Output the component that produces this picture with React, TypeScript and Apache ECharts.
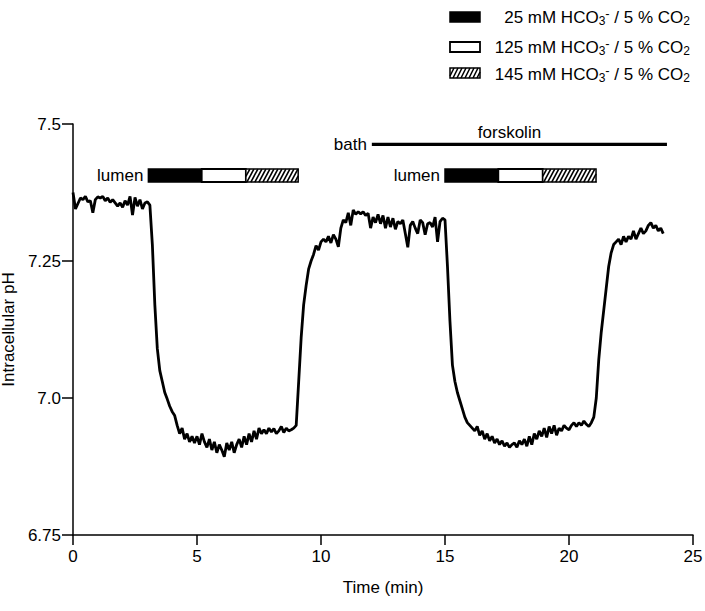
import React, { useEffect, useRef } from "react";
import * as echarts from "echarts";

// ---- data ----
const sampleIntervalMin = 0.1; // recording sampled every 0.1 min, starting at t = 0
const phValues = [
  // 0.0 - 3.1
  7.375, 7.345, 7.355, 7.365, 7.362, 7.368, 7.358, 7.36, 7.338, 7.362,
  7.367, 7.365, 7.368, 7.36, 7.365, 7.357, 7.362, 7.356, 7.35, 7.356,
  7.348, 7.36, 7.352, 7.368, 7.334, 7.366, 7.35, 7.362, 7.345, 7.356,
  7.358, 7.352,
  // 3.2 - 8.9
  7.28, 7.17, 7.09, 7.05, 7.03, 7.01, 6.998, 6.985, 6.975, 6.968,
  6.95, 6.935, 6.945, 6.925, 6.935, 6.92, 6.93, 6.918, 6.93, 6.915,
  6.935, 6.92, 6.91, 6.925, 6.905, 6.92, 6.9, 6.915, 6.905, 6.893,
  6.918, 6.905, 6.92, 6.9, 6.915, 6.925, 6.91, 6.93, 6.915, 6.935,
  6.92, 6.94, 6.925, 6.945, 6.935, 6.942, 6.935, 6.945, 6.938, 6.944,
  6.935, 6.94, 6.948, 6.937, 6.945, 6.94, 6.942, 6.945,
  // 9.0 - 15.0
  6.95, 7.03, 7.11, 7.17, 7.205, 7.235, 7.25, 7.262, 7.278, 7.27,
  7.285, 7.29, 7.285, 7.295, 7.283, 7.298, 7.29, 7.276, 7.31, 7.325,
  7.32, 7.338, 7.315, 7.343, 7.335, 7.34, 7.336, 7.34, 7.333, 7.337,
  7.31, 7.33, 7.32, 7.335, 7.318, 7.333, 7.31, 7.33, 7.312, 7.328,
  7.308, 7.322, 7.318, 7.325, 7.3, 7.275, 7.315, 7.322, 7.31, 7.3,
  7.325, 7.32, 7.298, 7.318, 7.32, 7.312, 7.33, 7.285, 7.322, 7.328,
  7.325,
  // 15.1 - 23.8
  7.24, 7.14, 7.06, 7.03, 7.01, 6.995, 6.98, 6.965, 6.955,
  6.95, 6.945, 6.94, 6.948, 6.932, 6.94, 6.925, 6.935, 6.922, 6.93,
  6.918, 6.925, 6.915, 6.922, 6.912, 6.918, 6.91, 6.915, 6.918, 6.91,
  6.922, 6.915, 6.925, 6.912, 6.93, 6.915, 6.935, 6.925, 6.94, 6.93,
  6.945, 6.928, 6.948, 6.935, 6.95, 6.932, 6.945, 6.94, 6.95, 6.945,
  6.942, 6.95, 6.955, 6.948, 6.955, 6.95, 6.958, 6.952, 6.948, 6.955,
  6.965, 7.0, 7.07, 7.12, 7.16, 7.2, 7.24, 7.265, 7.28, 7.285,
  7.29, 7.28, 7.295, 7.285, 7.295, 7.29, 7.305, 7.29, 7.3, 7.31,
  7.3, 7.305, 7.315, 7.32, 7.31, 7.315, 7.305, 7.31, 7.3,
];

const xTicks = [0, 5, 10, 15, 20, 25];
const yTickValues = [6.75, 7.0, 7.25, 7.5];
const yTickLabels = ["6.75", "7.0", "7.25", "7.5"];

// lumen perfusion segments: [start min, end min, solution index]
const lumenSegments = [
  [3.04, 5.19, 0],
  [5.19, 6.97, 1],
  [6.97, 9.08, 2],
  [15.0, 17.15, 0],
  [17.15, 18.94, 1],
  [18.94, 21.09, 2],
];
const lumenLevel = 7.406;
const bathSpan = [12.05, 23.95];
const bathLevel = 7.463;

const annotationTexts = ["lumen", "lumen", "bath", "forskolin"];
const annotationTimes = [3.04, 15.0, 12.05, 17.6];
const annotationLevels = [7.406, 7.406, 7.463, 7.484];

const legendConc = ["25", "125", "145"];

const FONT = "'Liberation Sans', Arial, Helvetica, sans-serif";

function hatchLines(x: number, y: number, w: number, h: number, spacing: number, slant: number, lw: number) {
  const out: any[] = [];
  for (let k = -slant; k < w; k += spacing) {
    const s0 = Math.max(0, -k / slant);
    const s1 = Math.min(1, (w - k) / slant);
    if (s1 <= s0) continue;
    out.push({
      type: "line",
      shape: {
        x1: x + k + slant * s0,
        y1: y + h - h * s0,
        x2: x + k + slant * s1,
        y2: y + h - h * s1,
      },
      style: { stroke: "#000", lineWidth: lw },
      silent: true,
    });
  }
  return out;
}

function swatch(kind: number, x: number, y: number, w: number, h: number, hatchSlant: number) {
  if (kind === 0) {
    return [{ type: "rect", shape: { x, y, width: w, height: h }, style: { fill: "#000", stroke: "#000", lineWidth: 1.5 } }];
  }
  if (kind === 1) {
    return [{ type: "rect", shape: { x, y, width: w, height: h }, style: { fill: "#fff", stroke: "#000", lineWidth: 1.8 } }];
  }
  return [
    { type: "rect", shape: { x, y, width: w, height: h }, style: { fill: "#fff", stroke: "#000", lineWidth: 1.5 } },
    ...hatchLines(x, y, w, h, 4, hatchSlant, 1.6),
  ];
}

export default function App() {
  const ref = useRef<HTMLDivElement>(null);

  useEffect(() => {
    if (!ref.current) return;
    const chart = echarts.init(ref.current, null, { renderer: "svg" });

    const lineData = phValues.map((v, i) => [Number((i * sampleIntervalMin).toFixed(1)), v]);
    const lumenData = lumenSegments.map((s) => [s[0], s[1], lumenLevel, s[2]]);
    const annData = annotationTexts.map((t, i) => [annotationTimes[i], annotationLevels[i], i]);

    const legendRowY = [12, 42, 68];
    const legendTextY = [17, 47, 74];
    const legendElems: any[] = [];
    legendConc.forEach((c, i) => {
      legendElems.push({
        type: "group",
        children: swatch(i, 450, legendRowY[i], 30, 10, 5),
      });
      legendElems.push({
        type: "text",
        x: 690,
        y: legendTextY[i],
        style: {
          text: `{n|${c} mM HCO}{sub|3}{sup|-}{n| / 5 % CO}{sub|2}`,
          align: "right",
          verticalAlign: "middle",
          fill: "#000",
          rich: {
            n: { fontSize: 17, fontFamily: FONT, lineHeight: 20, fill: "#000" },
            sub: { fontSize: 12, fontFamily: FONT, lineHeight: 12, verticalAlign: "bottom", fill: "#000" },
            sup: { fontSize: 13, fontFamily: FONT, lineHeight: 9, verticalAlign: "top", fill: "#000" },
          },
        },
      });
    });

    const option: any = {
      animation: false,
      backgroundColor: "#fff",
      grid: {
        left: 73,
        right: 12,
        top: 124,
        bottom: 76,
        containLabel: false,
        outerBoundsMode: "none",
      },
      xAxis: {
        type: "value",
        min: 0,
        max: 25,
        interval: 5,
        name: "Time (min)",
        nameLocation: "middle",
        nameGap: 44,
        nameTextStyle: { fontSize: 17, fontFamily: FONT, color: "#000" },
        axisLine: { show: true, onZero: false, lineStyle: { color: "#000", width: 1.5 } },
        axisTick: { show: true, inside: false, length: 10, lineStyle: { color: "#000", width: 1.5 } },
        axisLabel: {
          fontSize: 17,
          fontFamily: FONT,
          color: "#000",
          margin: 13,
          formatter: (v: number) => (xTicks.includes(v) ? String(v) : ""),
        },
        splitLine: { show: false },
      },
      yAxis: {
        type: "value",
        min: 6.75,
        max: 7.5,
        interval: 0.25,
        name: "Intracellular pH",
        nameLocation: "middle",
        nameGap: 46,
        nameTextStyle: { fontSize: 17, fontFamily: FONT, color: "#000" },
        axisLine: { show: true, onZero: false, lineStyle: { color: "#000", width: 1.5 } },
        axisTick: { show: true, inside: false, length: 11, lineStyle: { color: "#000", width: 1.5 } },
        axisLabel: {
          fontSize: 17,
          fontFamily: FONT,
          color: "#000",
          margin: 12,
          formatter: (v: number) => {
            const idx = yTickValues.findIndex((t) => Math.abs(t - v) < 1e-6);
            return idx >= 0 ? yTickLabels[idx] : "";
          },
        },
        splitLine: { show: false },
      },
      graphic: { elements: legendElems },
      series: [
        {
          type: "line",
          data: lineData,
          showSymbol: false,
          symbol: "none",
          lineStyle: { color: "#000", width: 2.8 },
          z: 5,
          silent: true,
        },
        {
          type: "custom",
          coordinateSystem: "cartesian2d",
          data: lumenData,
          encode: { x: [0, 1], y: 2 },
          silent: true,
          z: 6,
          renderItem: (params: any, api: any) => {
            const p0 = api.coord([api.value(0), api.value(2)]);
            const p1 = api.coord([api.value(1), api.value(2)]);
            const h = 13;
            return {
              type: "group",
              children: swatch(api.value(3), p0[0], p0[1] - h / 2, p1[0] - p0[0], h, 7),
            };
          },
        },
        {
          type: "custom",
          coordinateSystem: "cartesian2d",
          data: [[bathSpan[0], bathSpan[1], bathLevel]],
          encode: { x: [0, 1], y: 2 },
          silent: true,
          z: 6,
          renderItem: (params: any, api: any) => {
            const p0 = api.coord([api.value(0), api.value(2)]);
            const p1 = api.coord([api.value(1), api.value(2)]);
            return {
              type: "line",
              shape: { x1: p0[0], y1: p0[1], x2: p1[0], y2: p1[1] },
              style: { stroke: "#000", lineWidth: 3.2 },
            };
          },
        },
        {
          type: "custom",
          coordinateSystem: "cartesian2d",
          data: annData,
          encode: { x: 0, y: 1 },
          silent: true,
          z: 6,
          renderItem: (params: any, api: any) => {
            const i = api.value(2);
            const p = api.coord([api.value(0), api.value(1)]);
            const centered = annotationTexts[i] === "forskolin";
            return {
              type: "text",
              x: centered ? p[0] : p[0] - 5,
              y: p[1],
              style: {
                text: annotationTexts[i],
                fill: "#000",
                fontSize: 17,
                fontFamily: FONT,
                align: centered ? "center" : "right",
                verticalAlign: "middle",
              },
            };
          },
        },
      ],
    };

    chart.setOption(option);
    return () => {
      chart.dispose();
    };
  }, []);

  return (
    <div
      ref={ref}
      style={{ position: "absolute", left: 0, top: 0, width: 705, height: 611, background: "#fff" }}
    />
  );
}
